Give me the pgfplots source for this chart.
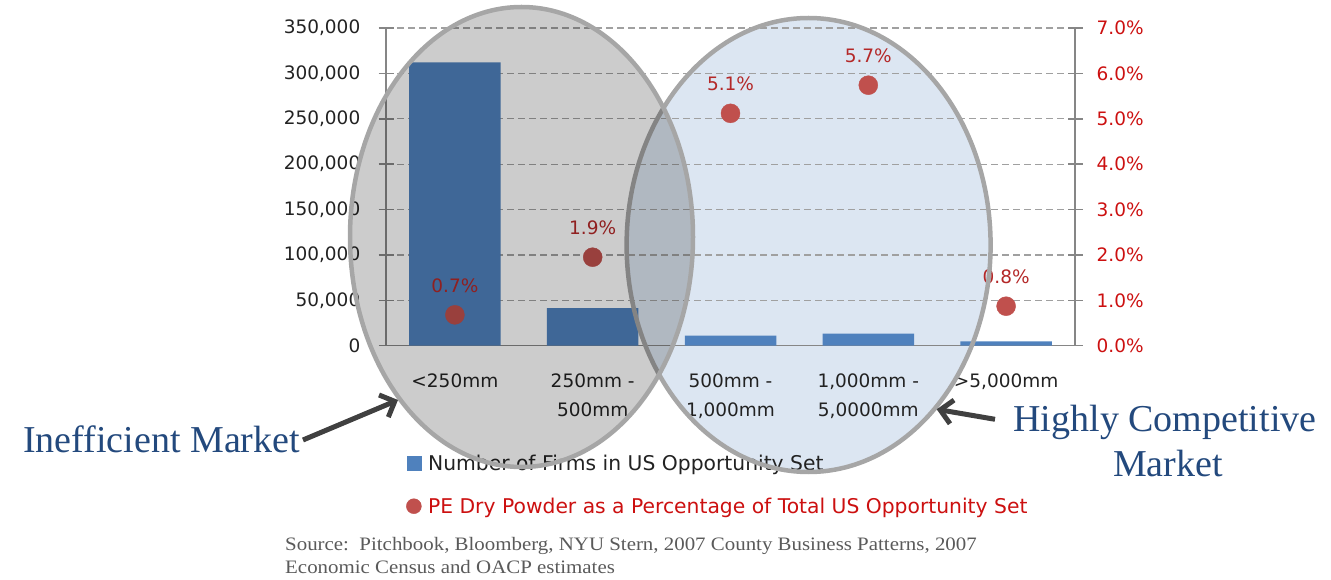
\documentclass[border=0pt]{standalone}
\usepackage{fontspec}
\setmainfont{DejaVu Sans}
\newfontfamily\annotfont{Liberation Serif}
\newfontfamily\sourcefont[FakeStretch=1.1]{Liberation Serif}
\usepackage{pgfplots}
\pgfplotsset{compat=1.18}
\usetikzlibrary{arrows.meta}

\definecolor{barblue}{HTML}{4F81BD}
\definecolor{dotred}{HTML}{C0504D}
\definecolor{ellblue}{HTML}{DCE6F2}
\definecolor{ellgray}{HTML}{A6A6A6}
\definecolor{gridgray}{HTML}{A0A0A0}
\definecolor{axisgray}{HTML}{868686}
\definecolor{annotblue}{RGB}{35,73,125}
\definecolor{arrowgray}{HTML}{404040}
\definecolor{sourcegray}{HTML}{5A5A5A}
\definecolor{labeldark}{HTML}{222222}
\definecolor{tickred}{RGB}{204,16,16}
\definecolor{labelred}{RGB}{180,40,40}

\begin{document}
\begin{tikzpicture}[x=1pt,y=1pt]
\path (0,0) rectangle (1331,579);

% right ellipse fill, behind the chart
\fill[ellblue] (808.6,334) ellipse [x radius=182, y radius=227];

\pgfplotsset{
  commonaxis/.style={
    scale only axis, width=689pt, height=317.7pt,
    anchor=south west, at={(386pt,233.3pt)},
    xmin=-0.5, xmax=4.5,
    /pgf/number format/assume math mode=true,
    tick label style={font=\fontsize{18.5}{29}\selectfont},
    axis line style={-, draw=axisgray, line width=1.5pt},
    tick align=center, major tick length=15pt,
    ytick style={draw=axisgray, line width=1.5pt},
    xtick style={draw=none},
  }
}

% bars: number of firms
\begin{axis}[commonaxis,
  axis x line*=bottom, axis y line*=left,
  ymin=0, ymax=350000,
  ytick={0,50000,...,350000},
  scaled y ticks=false,
  /pgf/number format/fixed,
  /pgf/number format/1000 sep={,},
  yticklabel style={text=labeldark, anchor=east, inner sep=0pt, xshift=-18pt},
  ymajorgrids,
  major grid style={draw=gridgray, line width=1.2pt, dash pattern=on 7pt off 4pt},
  xtick={0,1,2,3,4},
  xticklabels={{<250mm},{250mm -\\500mm},{500mm -\\1,000mm},{1,000mm -\\5,0000mm},{>5,000mm}},
  xticklabel style={align=center, text=labeldark, anchor=north, inner sep=0pt, yshift=-13pt},
  ybar, bar width=91.5pt,
]
\addplot[fill=barblue, draw=none] coordinates {
  (0,312000) (1,41500) (2,11000) (3,13200) (4,4800)
};
\end{axis}

% dots: PE dry powder share
\begin{axis}[commonaxis,
  axis y line*=right, axis x line=none,
  ymin=0, ymax=7,
  ytick={0,1,...,7},
  yticklabel={\pgfmathprintnumber[fixed,fixed zerofill,precision=1]{\tick}\%},
  yticklabel style={text=tickred, anchor=west, inner sep=0pt, xshift=14pt},
  legend style={at={(0.029,-0.335)}, anchor=north west, draw=none, fill=none,
    font=\fontsize{20.3}{20}\selectfont, row sep=21pt, inner sep=0pt,
    nodes={inner sep=2.5pt}},
  legend cell align=left,
]
\addlegendimage{legend image code/.code={\fill[barblue] (0pt,-7pt) rectangle (14pt,7pt);}}
\addlegendentry{\hspace{4pt}\textcolor{labeldark}{Number of Firms in US Opportunity Set}}
\addplot[dotred, only marks, mark=*, mark size=9.5pt, mark options={fill=dotred, draw=dotred},
  point meta=explicit symbolic, nodes near coords,
  every node near coord/.append style={font=\fontsize{18.5}{20}\selectfont,
    text=labelred, anchor=south, inner sep=0pt, yshift=22pt},
  legend image code/.code={\fill[dotred] (7pt,0pt) circle (7.5pt);}]
  coordinates {
  (0,0.68) [0.7\%]
  (1,1.95) [1.9\%]
  (2,5.12) [5.1\%]
  (3,5.74) [5.7\%]
  (4,0.87) [0.8\%]
};
\addlegendentry{\hspace{4pt}\textcolor{tickred}{PE Dry Powder as a Percentage of Total US Opportunity Set}}
\end{axis}

% right ellipse outline, left ellipse on top
\draw[ellgray, line width=4.5pt] (808.6,334) ellipse [x radius=182, y radius=227];
\fill[black, opacity=0.2] (521.5,342) ellipse [x radius=171.5, y radius=230];
\draw[ellgray, line width=4.5pt] (521.5,342) ellipse [x radius=171.5, y radius=230];

% arrows and annotations
\draw[arrowgray, line width=5pt, -{Straight Barb[length=12pt, width=24pt]}] (303,139) -- (398,179);
\draw[arrowgray, line width=5pt, -{Straight Barb[length=12pt, width=24pt]}] (995,159.7) -- (936.7,169.7);

\node[anchor=base west, inner sep=0pt, text=annotblue, font=\annotfont\fontsize{38}{45}\selectfont]
  at (23,126.7) {Inefficient Market};
\node[anchor=base, inner sep=0pt, text=annotblue, font=\annotfont\fontsize{38}{45}\selectfont]
  at (1165,147.3) {Highly Competitive};
\node[anchor=base, inner sep=0pt, text=annotblue, font=\annotfont\fontsize{38}{45}\selectfont]
  at (1168,102.3) {Market};

\node[anchor=base west, inner sep=0pt, text=sourcegray, font=\sourcefont\fontsize{19}{23}\selectfont]
  at (285,29) {Source:\ \ Pitchbook, Bloomberg, NYU Stern, 2007 County Business Patterns, 2007};
\node[anchor=base west, inner sep=0pt, text=sourcegray, font=\sourcefont\fontsize{19}{23}\selectfont]
  at (285,6) {Economic Census and OACP estimates};
\end{tikzpicture}
\end{document}
